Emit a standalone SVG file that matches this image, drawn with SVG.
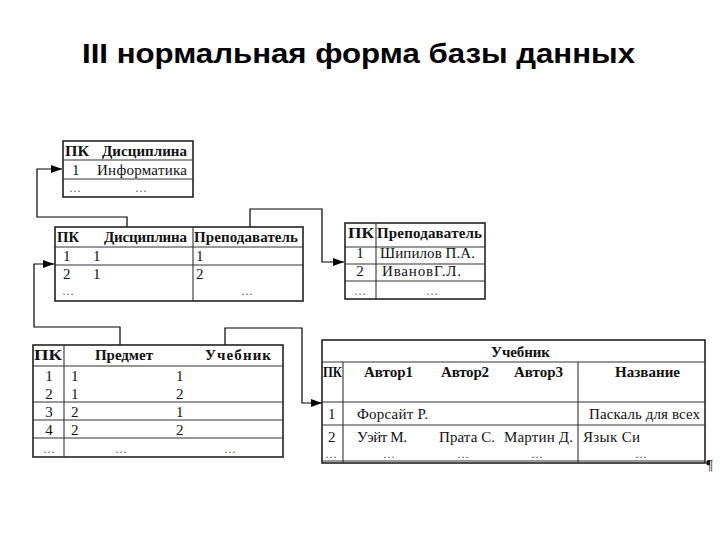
<svg xmlns="http://www.w3.org/2000/svg" width="720" height="540" viewBox="0 0 720 540">
<defs>
<marker id="arr" markerWidth="11" markerHeight="8" refX="11" refY="4" orient="auto" markerUnits="userSpaceOnUse">
<path d="M0,0 L11,4 L0,8 Z" fill="#000"/>
</marker>
<style>
.title{font-family:"Liberation Sans",Arial,sans-serif;font-weight:bold;font-size:27px;fill:#000}
.t{font-family:"Liberation Serif","Times New Roman","DejaVu Serif",serif;font-size:15px;fill:#111}
.d{font-family:"Liberation Serif","Times New Roman","DejaVu Serif",serif;font-size:12px;fill:#555;text-anchor:middle}
.h{font-family:"Liberation Serif","Times New Roman","DejaVu Serif",serif;font-size:15px;font-weight:bold;fill:#111}
.c{text-anchor:middle}
.box{fill:#fff;stroke:#222;stroke-width:1.6}
.ln{stroke:#333;stroke-width:1.1;fill:none}
.con{stroke:#000;stroke-width:1.2;fill:none;marker-end:url(#arr)}
</style>
</defs>
<rect width="720" height="540" fill="#fff"/>
<text class="title" x="82" y="63" textLength="553" lengthAdjust="spacingAndGlyphs">III нормальная форма базы данных</text>

<g id="connectors">
<path class="con" d="M127,227 V217 H37 V169 H62"/>
<path class="con" d="M250,227 V209 H322 V262 H344"/>
<path class="con" d="M120,345 V327 H34 V264 H54"/>
<path class="con" d="M225,345 V328 H302 V403 H322"/>
</g>

<g id="table-discipline">
<rect class="box" x="63" y="141" width="130" height="56"/>
<line class="ln" x1="63" y1="160" x2="193" y2="160"/>
<line class="ln" x1="63" y1="179" x2="193" y2="179"/>
<text class="h" x="65" y="156" textLength="24" lengthAdjust="spacingAndGlyphs">ПК</text>
<text class="h" x="102" y="156" textLength="85">Дисциплина</text>
<text class="t" x="72" y="175">1</text>
<text class="t" x="97" y="175" textLength="90">Информатика</text>
<text class="d" x="75" y="192">…</text>
<text class="d" x="141" y="192">…</text>
</g>

<g id="table-link">
<rect class="box" x="55" y="227" width="248" height="74"/>
<line class="ln" x1="193" y1="227" x2="193" y2="301"/>
<line class="ln" x1="55" y1="247" x2="303" y2="247"/>
<line class="ln" x1="55" y1="265" x2="303" y2="265"/>
<text class="h" x="57" y="242" textLength="22" lengthAdjust="spacingAndGlyphs">ПК</text>
<text class="h" x="104" y="242" textLength="83">Дисциплина</text>
<text class="h" x="194" y="242" textLength="104">Преподаватель</text>
<text class="t" x="63" y="261">1</text>
<text class="t" x="93" y="261">1</text>
<text class="t" x="196" y="261">1</text>
<text class="t" x="63" y="279">2</text>
<text class="t" x="93" y="279">1</text>
<text class="t" x="196" y="279">2</text>
<text class="d" x="68" y="295">…</text>
<text class="d" x="247" y="295">…</text>
</g>

<g id="table-teacher">
<rect class="box" x="345" y="223" width="140" height="76"/>
<line class="ln" x1="376" y1="223" x2="376" y2="299"/>
<line class="ln" x1="345" y1="247" x2="485" y2="247"/>
<line class="ln" x1="345" y1="264" x2="485" y2="264"/>
<line class="ln" x1="345" y1="281" x2="485" y2="281"/>
<text class="h" x="348" y="238" textLength="26" lengthAdjust="spacingAndGlyphs">ПК</text>
<text class="h" x="377" y="238" textLength="105">Преподаватель</text>
<text class="t c" x="360" y="258">1</text>
<text class="t" x="380" y="258" textLength="95">Шипилов П.А.</text>
<text class="t c" x="360" y="276">2</text>
<text class="t" x="382" y="276" textLength="79">ИвановГ.Л.</text>
<text class="d" x="360" y="295">…</text>
<text class="d" x="432" y="295">…</text>
</g>

<g id="table-subject">
<rect class="box" x="33" y="345" width="250" height="112"/>
<line class="ln" x1="64" y1="345" x2="64" y2="457"/>
<line class="ln" x1="33" y1="366" x2="283" y2="366"/>
<line class="ln" x1="33" y1="402" x2="283" y2="402"/>
<line class="ln" x1="33" y1="420" x2="283" y2="420"/>
<line class="ln" x1="33" y1="438" x2="283" y2="438"/>
<text class="h" x="34" y="360" textLength="28" lengthAdjust="spacingAndGlyphs">ПК</text>
<text class="h" x="95" y="360" textLength="58">Предмет</text>
<text class="h" x="205" y="360" textLength="66">Учебник</text>
<text class="t c" x="49" y="381">1</text>
<text class="t" x="71" y="381">1</text>
<text class="t" x="176" y="381">1</text>
<text class="t c" x="49" y="399">2</text>
<text class="t" x="71" y="399">1</text>
<text class="t" x="176" y="399">2</text>
<text class="t c" x="49" y="417">3</text>
<text class="t" x="71" y="417">2</text>
<text class="t" x="176" y="417">1</text>
<text class="t c" x="49" y="435">4</text>
<text class="t" x="71" y="435">2</text>
<text class="t" x="176" y="435">2</text>
<text class="d" x="49" y="453">…</text>
<text class="d" x="121" y="453">…</text>
<text class="d" x="230" y="453">…</text>
</g>

<g id="table-book">
<rect class="box" x="322" y="340" width="383" height="123"/>
<line class="ln" x1="322" y1="362" x2="705" y2="362"/>
<line class="ln" x1="343" y1="362" x2="343" y2="463"/>
<line class="ln" x1="578" y1="362" x2="578" y2="463"/>
<line class="ln" x1="322" y1="402" x2="705" y2="402"/>
<line class="ln" x1="322" y1="425" x2="705" y2="425"/>
<line class="ln" x1="322" y1="461" x2="705" y2="461"/>
<text class="h" x="491" y="357" textLength="59">Учебник</text>
<text class="h" x="323" y="377" textLength="19" lengthAdjust="spacingAndGlyphs">ПК</text>
<text class="h" x="364" y="377" textLength="49">Автор1</text>
<text class="h" x="441" y="377" textLength="48">Автор2</text>
<text class="h" x="514" y="377" textLength="49">Автор3</text>
<text class="h" x="615" y="377" textLength="65">Название</text>
<text class="t" x="328" y="419">1</text>
<text class="t" x="357" y="419" textLength="71">Форсайт Р.</text>
<text class="t" x="589" y="419" textLength="111">Паскаль для всех</text>
<text class="t" x="328" y="442">2</text>
<text class="t" x="357" y="442" textLength="50">Уэйт М.</text>
<text class="t" x="439" y="442" textLength="56">Прата С.</text>
<text class="t" x="504" y="442" textLength="69">Мартин Д.</text>
<text class="t" x="583" y="442" textLength="57">Язык Си</text>
<text class="d" x="331" y="458">…</text>
<text class="d" x="389" y="458">…</text>
<text class="d" x="463" y="458">…</text>
<text class="d" x="537" y="458">…</text>
<text class="d" x="641" y="458">…</text>
<text class="t" x="706" y="470">¶</text>
</g>
</svg>
